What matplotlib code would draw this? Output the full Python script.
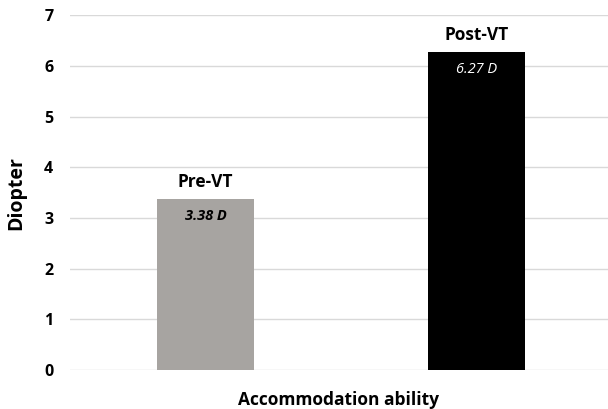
import matplotlib.pyplot as plt

groups = ['Pre-VT', 'Post-VT']
diopter = [3.38, 6.27]
bar_colors = ['#a7a4a1', '#000000']
value_colors = ['#000000', '#ffffff']
yticks = [0, 1, 2, 3, 4, 5, 6, 7]

plt.rcParams['font.family'] = ['Open Sans', 'DejaVu Sans']

fig = plt.figure(figsize=(6.08, 4.09), dpi=100)
ax = fig.add_axes([0.115, 0.095, 0.885, 0.868])

x = list(range(len(groups)))
ax.bar(x, diopter, width=0.36, color=bar_colors, zorder=3)

# group name above each bar, value in italics just inside the top
for xi, name, val, vc in zip(x, groups, diopter, value_colors):
    ax.text(xi, val + 0.16, name, ha='center', va='bottom',
            fontsize=12.5, fontweight='bold')
    ax.text(xi, val - 0.2, '%.2f D' % val, ha='center', va='top',
            fontsize=10.5, fontstyle='italic',
            fontweight='bold' if vc == '#000000' else 'normal', color=vc)

ax.set_xlim(-0.5, 1.485)
ax.set_ylim(0, 7)
ax.set_yticks(yticks)
ax.set_yticklabels([str(t) for t in yticks], fontsize=11.5, fontweight='bold')
ax.set_xticks([])
ax.yaxis.grid(True, color='#d9d9d9', linewidth=1)
ax.set_axisbelow(True)
for s in ax.spines.values():
    s.set_visible(False)
ax.tick_params(axis='y', length=0, pad=12)
ax.set_ylabel('Diopter', fontsize=14, fontweight='bold', labelpad=13)
ax.set_xlabel('Accommodation ability', fontsize=12.5, fontweight='bold', labelpad=15)

fig.savefig('out.png', dpi=100)
